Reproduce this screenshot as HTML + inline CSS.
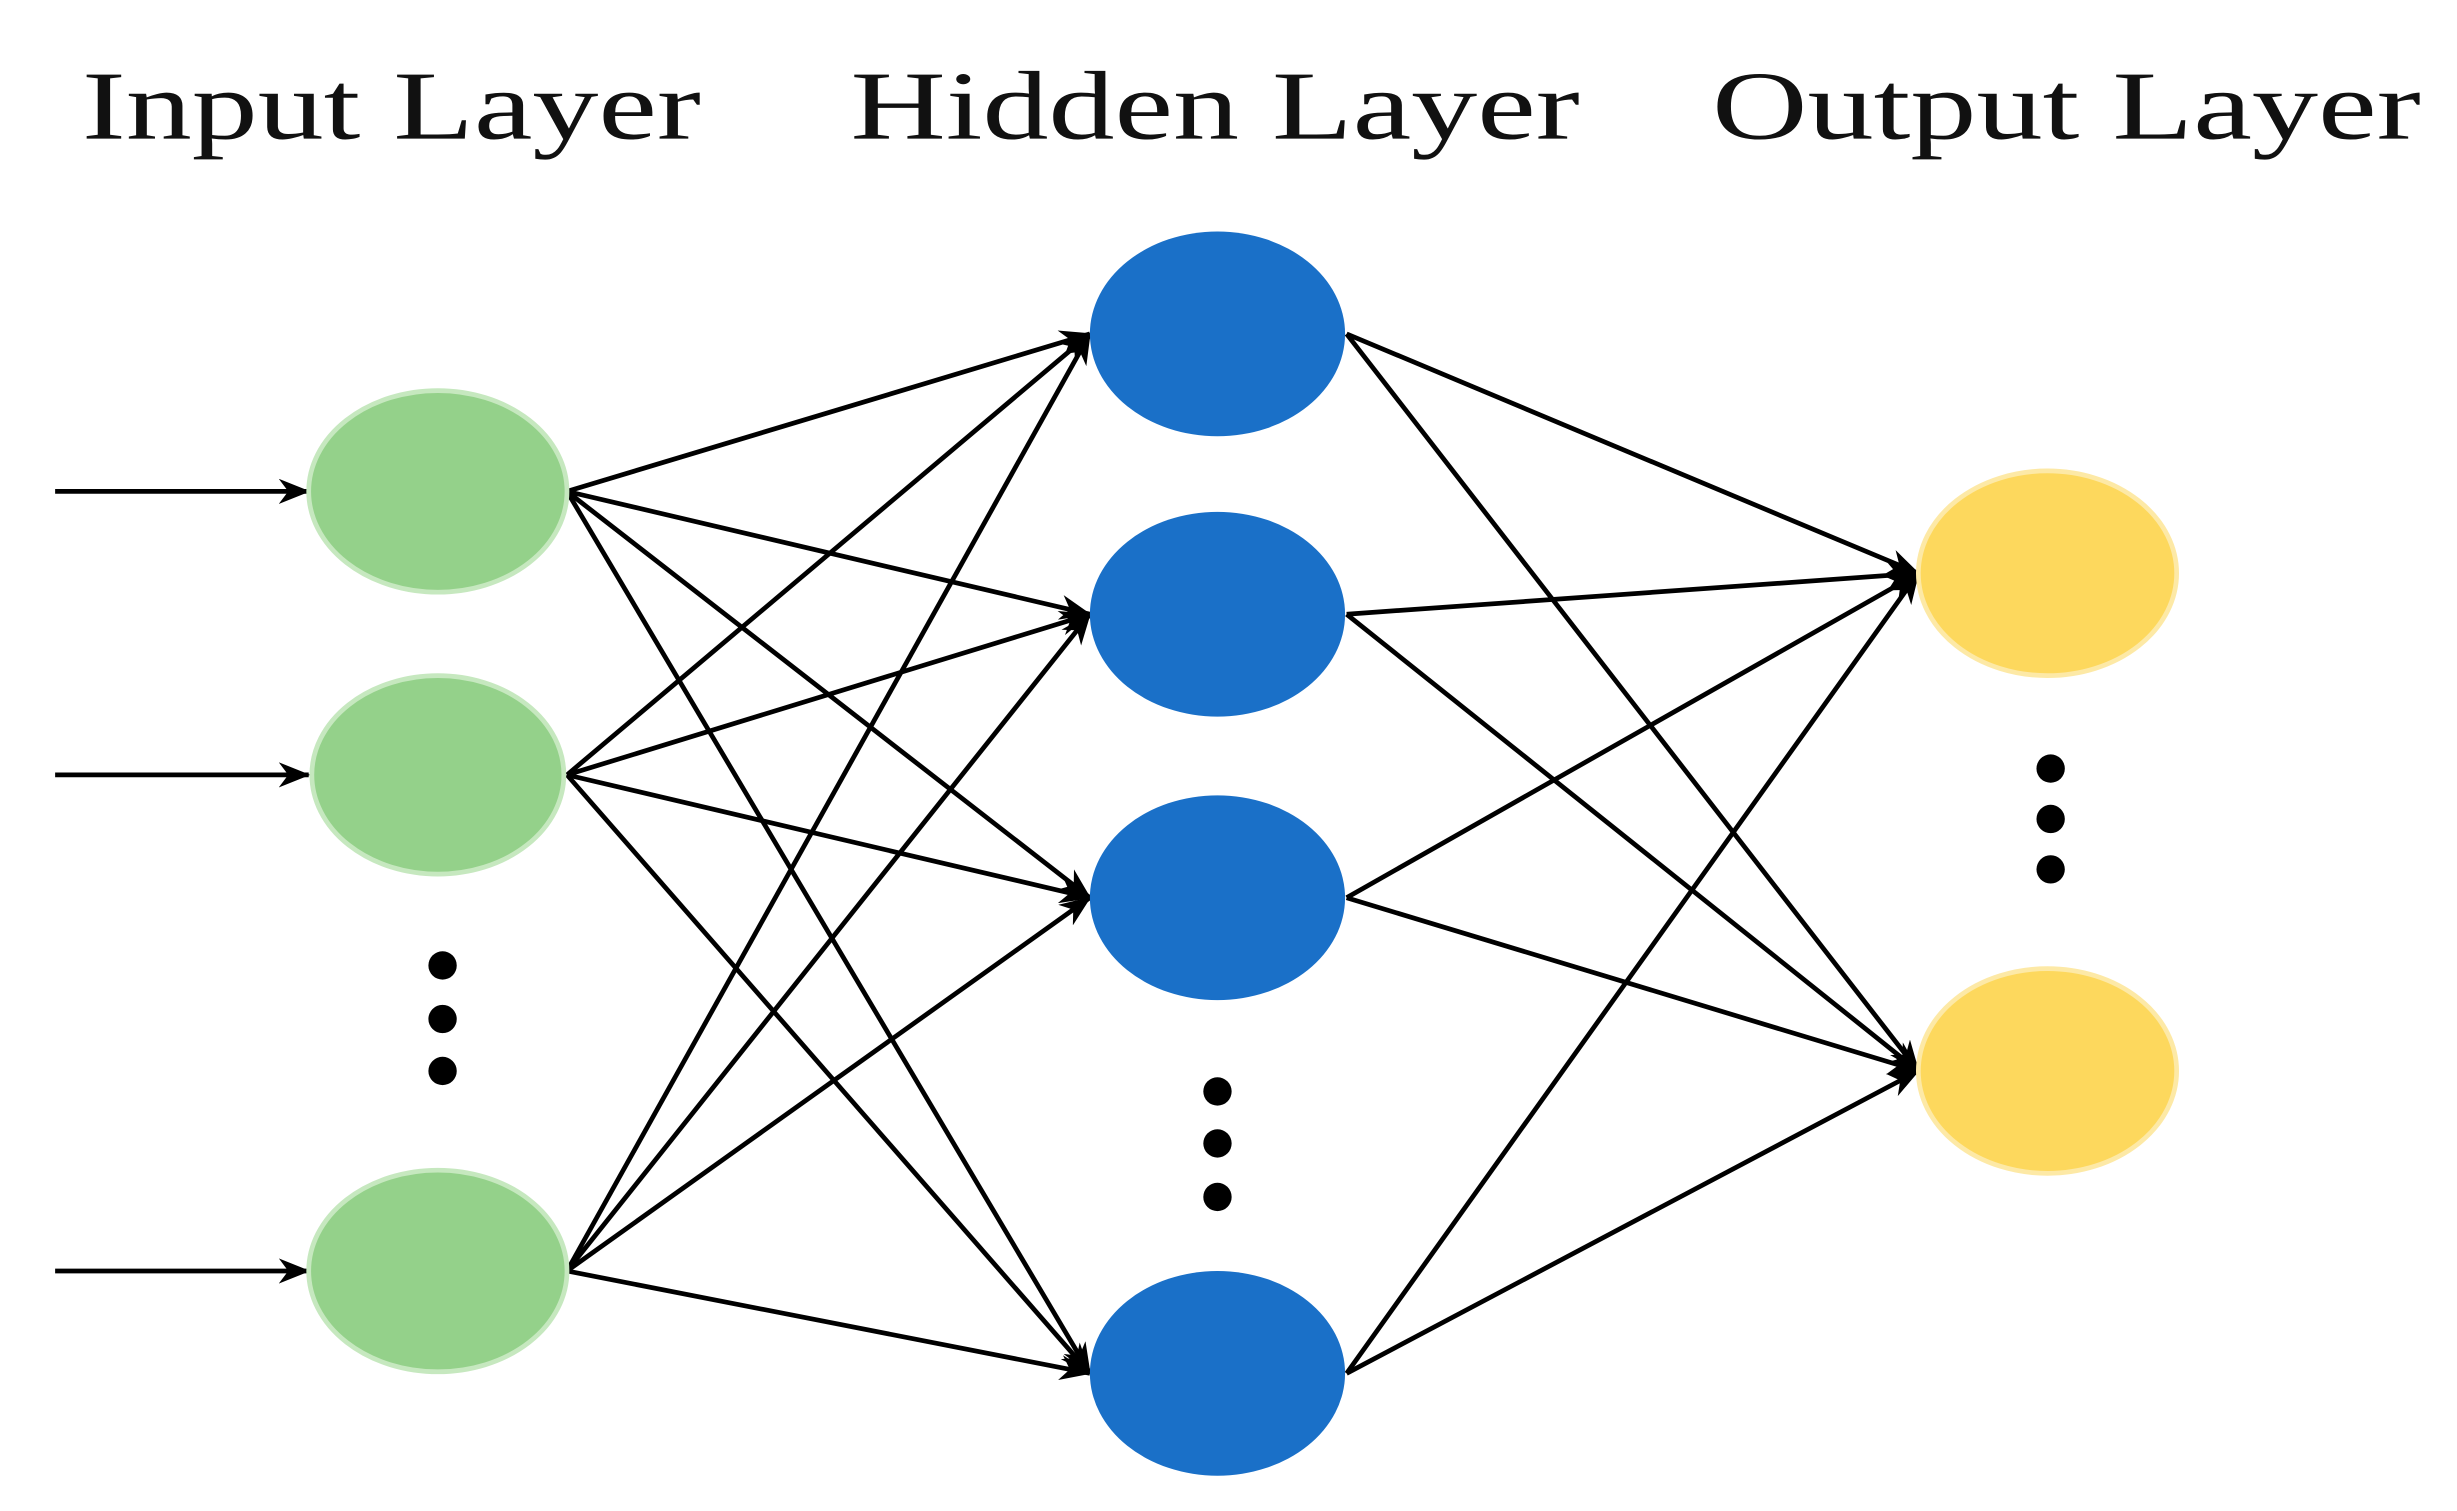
<!DOCTYPE html>
<html><head><meta charset="utf-8"><style>html,body{margin:0;padding:0;background:#fff}svg{display:block}</style></head>
<body>
<svg width="2457" height="1511" viewBox="0 0 1560 959.4" preserveAspectRatio="none" xmlns="http://www.w3.org/2000/svg">
<defs>
<marker id="a" viewBox="0 0 20 16" refX="19" refY="8" markerWidth="20" markerHeight="16" markerUnits="userSpaceOnUse" orient="auto">
<path d="M0,0 L20,8 L0,16 L6,8 Z" fill="#000"/>
</marker>
</defs>
<g font-family="Liberation Serif, serif" font-size="62" fill="#111">
<text x="52" y="88" textLength="393" lengthAdjust="spacingAndGlyphs">Input Layer</text>
<text x="540" y="88" textLength="463" lengthAdjust="spacingAndGlyphs">Hidden Layer</text>
<text x="1087" y="88" textLength="450" lengthAdjust="spacingAndGlyphs">Output Layer</text>
</g>
<g stroke="#000" stroke-width="3" fill="none" marker-end="url(#a)">
<line x1="35" y1="312" x2="196" y2="312"/>
<line x1="35" y1="492" x2="196" y2="492"/>
<line x1="35" y1="807" x2="196" y2="807"/>
<!-- input to hidden -->
<line x1="360" y1="312" x2="692" y2="212"/>
<line x1="360" y1="312" x2="692" y2="390"/>
<line x1="360" y1="312" x2="692" y2="570"/>
<line x1="360" y1="312" x2="692" y2="872"/>
<line x1="360" y1="492" x2="692" y2="212"/>
<line x1="360" y1="492" x2="692" y2="390"/>
<line x1="360" y1="492" x2="692" y2="570"/>
<line x1="360" y1="492" x2="692" y2="872"/>
<line x1="360" y1="807" x2="692" y2="212"/>
<line x1="360" y1="807" x2="692" y2="390"/>
<line x1="360" y1="807" x2="692" y2="570"/>
<line x1="360" y1="807" x2="692" y2="872"/>
<!-- hidden to output -->
<line x1="855" y1="212" x2="1218" y2="364"/>
<line x1="855" y1="212" x2="1218" y2="680"/>
<line x1="855" y1="390" x2="1218" y2="364"/>
<line x1="855" y1="390" x2="1218" y2="680"/>
<line x1="855" y1="570" x2="1218" y2="364"/>
<line x1="855" y1="570" x2="1218" y2="680"/>
<line x1="855" y1="872" x2="1218" y2="364"/>
<line x1="855" y1="872" x2="1218" y2="680"/>
</g>
<g fill="#94d18a" stroke="#c6e8bf" stroke-width="3">
<ellipse cx="278" cy="312" rx="82" ry="64"/>
<ellipse cx="278" cy="492" rx="80" ry="63"/>
<ellipse cx="278" cy="807" rx="82" ry="64"/>
</g>
<g fill="#1a70c8">
<ellipse cx="773" cy="212" rx="81" ry="65"/>
<ellipse cx="773" cy="390" rx="81" ry="65"/>
<ellipse cx="773" cy="570" rx="81" ry="65"/>
<ellipse cx="773" cy="872" rx="81" ry="65"/>
</g>
<g fill="#fdd85d" stroke="#fde9a6" stroke-width="3">
<ellipse cx="1300" cy="364" rx="82" ry="65"/>
<ellipse cx="1300" cy="680" rx="82" ry="65"/>
</g>
<g fill="#000">
<circle cx="281" cy="613" r="9"/><circle cx="281" cy="647" r="9"/><circle cx="281" cy="680" r="9"/>
<circle cx="773" cy="693" r="9"/><circle cx="773" cy="726" r="9"/><circle cx="773" cy="760" r="9"/>
<circle cx="1302" cy="488" r="9"/><circle cx="1302" cy="520" r="9"/><circle cx="1302" cy="552" r="9"/>
</g>
</svg>
</body></html>
